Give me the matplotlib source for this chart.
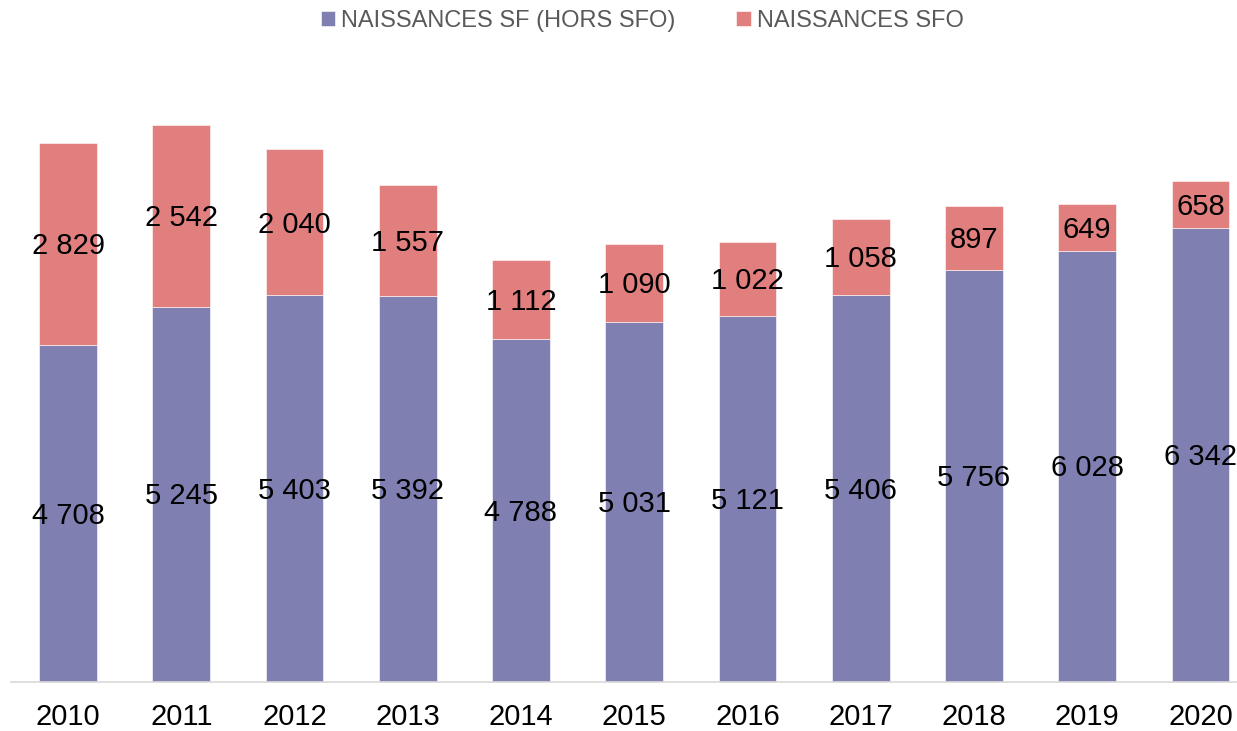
import matplotlib.pyplot as plt
import numpy as np

years = ["2010", "2011", "2012", "2013", "2014", "2015", "2016", "2017", "2018", "2019", "2020"]
sf_hors_sfo = [4708, 5245, 5403, 5392, 4788, 5031, 5121, 5406, 5756, 6028, 6342]
sfo = [2829, 2542, 2040, 1557, 1112, 1090, 1022, 1058, 897, 649, 658]

purple = "#7F7FB1"
red = "#E07F7D"


def fmt(v):
    return f"{v:,}".replace(",", " ")


plt.rcParams["font.family"] = ["Liberation Sans", "DejaVu Sans"]

fig = plt.figure(figsize=(12.37, 7.31), dpi=100)
# axes extend slightly past the right edge, as in the cropped original
ax = fig.add_axes([11.4 / 1237, 49 / 731, 1245.6 / 1237, 644 / 731])

x = np.arange(len(years))
w = 0.51
b1 = ax.bar(x, sf_hors_sfo, width=w, color=purple, edgecolor="white", linewidth=0.4,
            label="NAISSANCES SF (HORS SFO)")
b2 = ax.bar(x, sfo, width=w, bottom=sf_hors_sfo, color=red, edgecolor="white", linewidth=0.4,
            label="NAISSANCES SFO")

for i in range(len(years)):
    ax.text(x[i], sf_hors_sfo[i] / 2 - 30, fmt(sf_hors_sfo[i]), ha="center", va="center", fontsize=21)
    ax.text(x[i], sf_hors_sfo[i] + sfo[i] / 2 - 30, fmt(sfo[i]), ha="center", va="center", fontsize=21)

ax.set_xlim(-0.5, len(years) - 0.5)
ax.set_ylim(0, 9000)
ax.set_xticks(x)
ax.set_xticklabels(years, fontsize=21)
ax.tick_params(axis="x", length=0, pad=15)
ax.set_yticks([])
for s in ["top", "right", "left"]:
    ax.spines[s].set_visible(False)
ax.spines["bottom"].set_color("#D9D9D9")
ax.spines["bottom"].set_linewidth(1.2)

fig.legend(handles=[b1, b2], loc="center", bbox_to_anchor=(642 / 1237, 1 - 21 / 731), ncol=2,
           frameon=False, fontsize=17, labelcolor="#595959", handlelength=0.6, handleheight=0.6,
           handletextpad=0.25, columnspacing=2.6)

fig.savefig("out.png", dpi=100)
